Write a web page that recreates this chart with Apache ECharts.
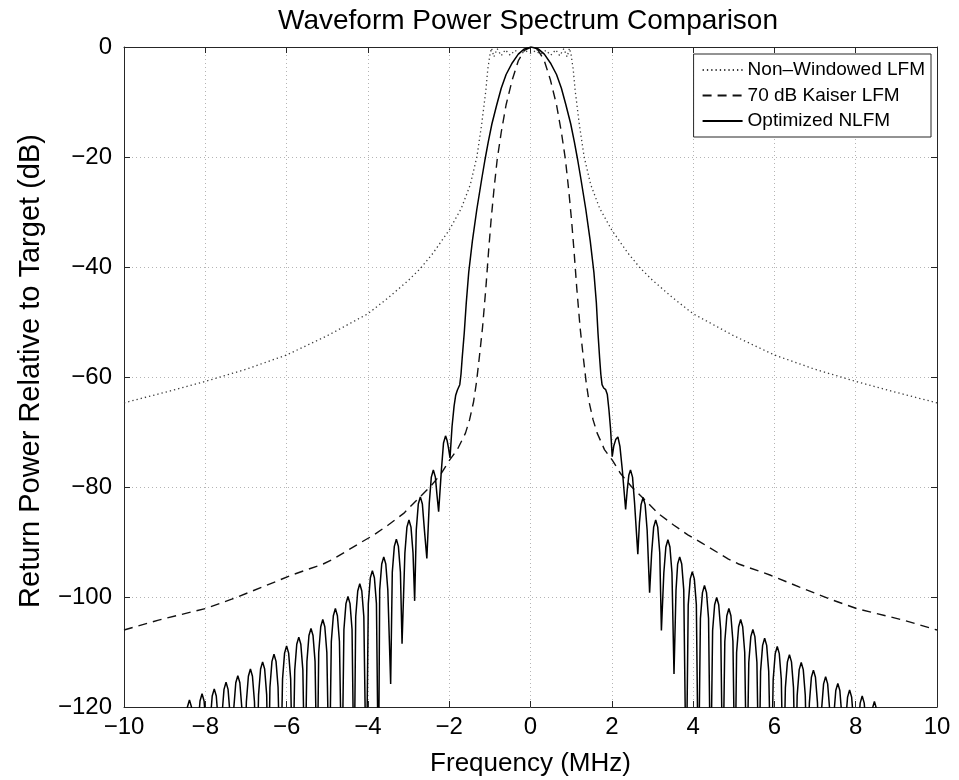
<!DOCTYPE html>
<html>
<head>
<meta charset="utf-8">
<script src="https://cdn.jsdelivr.net/npm/echarts@6/dist/echarts.min.js"></script>
<style>html,body{margin:0;padding:0;background:#fff}#c{width:959px;height:780px}</style>
</head>
<body>
<div id="c"></div>
<script>
// ---- data ----
var seriesNames = ['Non\u2013Windowed LFM', '70 dB Kaiser LFM', 'Optimized NLFM'];
var xTicks = [-10, -8, -6, -4, -2, 0, 2, 4, 6, 8, 10];
var yTicks = [-120, -100, -80, -60, -40, -20, 0];

// [frequency MHz, dB]
var nonWindowedLFM = [
  [-10,-64.7],[-9,-62.8],[-8,-60.8],[-7,-58.6],[-6,-56],[-5,-52.5],[-4,-48.5],[-3.5,-45.6],[-3,-42.4],
  [-2.7,-40.2],[-2.4,-37.5],[-2,-33.3],[-1.7,-29.3],[-1.48,-25],[-1.32,-20],[-1.2,-14],[-1.1,-8],
  [-1.05,-4],[-1.0,-1.5],[-0.96,-0.2],[-0.9,-1.8],[-0.82,-0.3],[-0.72,-1.6],[-0.62,-0.5],[-0.5,-1.5],
  [-0.38,-0.6],[-0.25,-1.3],[-0.12,-0.7],[0,-1.1],[0.12,-0.7],[0.25,-1.3],[0.38,-0.6],[0.5,-1.5],
  [0.62,-0.5],[0.72,-1.6],[0.82,-0.3],[0.9,-1.8],[0.96,-0.2],[1.0,-1.5],[1.05,-4],[1.1,-8],[1.2,-14],
  [1.32,-20],[1.48,-25],[1.7,-29.3],[2,-33.3],[2.4,-37.5],[2.7,-40.2],[3,-42.4],[3.5,-45.6],[4,-48.5],
  [5,-52.5],[6,-56],[7,-58.6],[8,-60.8],[9,-62.8],[10,-64.7]
];

var kaiserLFM = [
  [-10,-106],[-9.15,-104.2],[-8.33,-102.7],[-8,-102.1],[-7.35,-100.4],[-6.6,-98.2],[-5.87,-96],[-5.1,-94],
  [-4.85,-93.1],[-4.2,-90.2],[-3.85,-88.7],[-3.5,-86.9],[-3.12,-84.8],[-2.8,-82.4],[-2.46,-79.9],[-2.2,-77.6],
  [-2,-75.2],[-1.8,-73.2],[-1.6,-70.2],[-1.5,-67.8],[-1.4,-64.5],[-1.33,-61],[-1.26,-56.5],[-1.18,-51],
  [-1.1,-44],[-1.03,-37],[-0.97,-31.5],[-0.9,-26],[-0.82,-20.5],[-0.72,-15.5],[-0.6,-10.5],[-0.45,-6],
  [-0.3,-2.5],[-0.15,-0.6],[0.02,0],[0.19,-0.6],[0.34,-2.5],[0.49,-6],[0.64,-10.5],[0.76,-15.5],
  [0.86,-20.5],[0.94,-26],[1.01,-31.5],[1.07,-37],[1.14,-44],[1.22,-51],[1.3,-56.5],[1.37,-61],
  [1.44,-64.5],[1.54,-67.8],[1.64,-70.2],[1.82,-73.2],[2.02,-75.2],[2.22,-77.6],[2.48,-79.9],[2.82,-82.4],
  [3.14,-84.8],[3.52,-86.9],[3.87,-88.7],[4.22,-90.2],[4.87,-93.1],[5.12,-94],[5.89,-96],[6.62,-98.2],
  [7.37,-100.4],[8.02,-102.1],[8.35,-102.7],[9.17,-104.2],[10,-106]
];

var nlfmLeftSidelobes = [
  [-10,-140],[-8.54,-135],
  [-8.49,-124.7],[-8.44,-120],[-8.39,-118.7],[-8.34,-120],[-8.29,-124.7],[-8.23,-135],
  [-8.18,-123.6],[-8.13,-118.9],[-8.08,-117.6],[-8.03,-118.9],[-7.98,-123.6],[-7.93,-135],
  [-7.88,-122.7],[-7.83,-118],[-7.78,-116.7],[-7.73,-118],[-7.68,-122.7],[-7.64,-135],
  [-7.59,-121.5],[-7.54,-116.8],[-7.49,-115.5],[-7.44,-116.8],[-7.39,-121.5],[-7.35,-135],
  [-7.30,-120.3],[-7.25,-115.6],[-7.20,-114.3],[-7.15,-115.6],[-7.10,-120.3],[-7.04,-135],
  [-6.99,-119.1],[-6.94,-114.4],[-6.89,-113.1],[-6.84,-114.4],[-6.79,-119.1],[-6.74,-135],
  [-6.69,-117.8],[-6.64,-113.1],[-6.59,-111.8],[-6.54,-113.1],[-6.49,-117.8],[-6.45,-135],
  [-6.41,-116.4],[-6.36,-111.7],[-6.31,-110.4],[-6.26,-111.7],[-6.21,-116.4],[-6.15,-135],
  [-6.10,-114.9],[-6.05,-110.2],[-6.00,-108.9],[-5.95,-110.2],[-5.90,-114.9],[-5.85,-135],
  [-5.80,-113.3],[-5.75,-108.6],[-5.70,-107.3],[-5.65,-108.6],[-5.60,-113.3],[-5.55,-135],
  [-5.50,-111.7],[-5.45,-107],[-5.40,-105.7],[-5.35,-107],[-5.30,-111.7],[-5.25,-135],
  [-5.21,-110.1],[-5.16,-105.4],[-5.11,-104.1],[-5.06,-105.4],[-5.01,-110.1],[-4.95,-135],
  [-4.90,-108.1],[-4.85,-103.4],[-4.80,-102.1],[-4.75,-103.4],[-4.70,-108.1],[-4.64,-135],
  [-4.59,-105.9],[-4.54,-101.2],[-4.49,-99.9],[-4.44,-101.2],[-4.39,-105.9],[-4.34,-135],
  [-4.30,-103.6],[-4.25,-98.9],[-4.20,-97.6],[-4.15,-98.9],[-4.10,-103.6],[-4.04,-135],
  [-3.99,-101.2],[-3.94,-96.5],[-3.89,-95.2],[-3.84,-96.5],[-3.79,-101.2],[-3.74,-135],
  [-3.71,-98.7],[-3.66,-94],[-3.61,-92.7],[-3.56,-94],[-3.51,-98.7],[-3.44,-115.8],
  [-3.40,-95.5],[-3.35,-90.8],[-3.30,-89.5],[-3.25,-90.8],[-3.20,-95.5],[-3.16,-108.5],
  [-3.09,-92],[-3.04,-87.3],[-2.99,-86],[-2.94,-87.3],[-2.89,-92],[-2.85,-100.7],
  [-2.81,-87.8],[-2.76,-83.1],[-2.71,-81.8],[-2.66,-83.1],[-2.61,-87.8],[-2.55,-93],
  [-2.49,-82.9],[-2.44,-78.2],[-2.39,-76.9],[-2.34,-78.2],[-2.30,-81.5],[-2.26,-84.5],
  [-2.19,-76.7],[-2.14,-72],[-2.09,-70.7],[-2.05,-71.6],[-2.02,-72.8]
];

var nlfmMainLobe = [
  [-1.98,-74.7],[-1.93,-69],[-1.88,-65.3],[-1.84,-63.3],[-1.80,-62.4],[-1.77,-62.2],[-1.74,-61.4],
  [-1.71,-59.5],[-1.68,-56.5],[-1.63,-52],[-1.58,-46.5],[-1.52,-41],[-1.43,-35.3],[-1.32,-29.5],
  [-1.2,-24],[-1.12,-20.5],[-1.04,-17.3],[-0.95,-14],[-0.83,-10.5],[-0.72,-7.5],[-0.6,-5],[-0.45,-2.9],
  [-0.3,-1.3],[-0.15,-0.35],[0.02,0],[0.19,-0.35],[0.34,-1.3],[0.49,-2.9],[0.64,-5],[0.76,-7.5],
  [0.87,-10.5],[0.99,-14],[1.08,-17.3],[1.16,-20.5],[1.24,-24],[1.36,-29.5],[1.47,-35.3],[1.56,-41],
  [1.62,-46.5],[1.66,-52],[1.70,-56.5],[1.73,-59.5],[1.76,-61.4],[1.80,-62],[1.85,-62.3],[1.89,-63.2],
  [1.93,-66],[1.97,-69.5],[2.01,-74.5]
];

var nlfmRightSidelobes = [
  [2.05,-72.5],[2.10,-71.3],[2.15,-70.9],[2.20,-72.6],[2.26,-77],[2.34,-84.1],
  [2.38,-80.5],[2.42,-77.8],[2.46,-76.9],[2.51,-78.2],[2.56,-82.9],[2.64,-92.2],
  [2.68,-86.5],[2.72,-83.2],[2.77,-81.9],[2.82,-83.2],[2.87,-87.9],[2.93,-99.2],
  [2.98,-92],[3.03,-87.3],[3.08,-86],[3.13,-87.3],[3.18,-92],[3.22,-106.1],
  [3.28,-95.6],[3.33,-90.9],[3.38,-89.6],[3.43,-90.9],[3.48,-95.6],[3.53,-114],
  [3.58,-98.7],[3.62,-94],[3.67,-92.7],[3.72,-94],[3.77,-98.7],[3.83,-135],
  [3.88,-101.4],[3.93,-96.7],[3.98,-95.4],[4.03,-96.7],[4.08,-101.4],[4.13,-135],
  [4.18,-103.9],[4.23,-99.2],[4.28,-97.9],[4.33,-99.2],[4.38,-103.9],[4.43,-135],
  [4.48,-106.1],[4.53,-101.4],[4.58,-100.1],[4.63,-101.4],[4.68,-106.1],[4.73,-135],
  [4.78,-108.1],[4.83,-103.4],[4.88,-102.1],[4.93,-103.4],[4.98,-108.1],[5.03,-135],
  [5.07,-110.1],[5.12,-105.4],[5.17,-104.1],[5.22,-105.4],[5.27,-110.1],[5.32,-135],
  [5.37,-111.9],[5.42,-107.2],[5.47,-105.9],[5.52,-107.2],[5.57,-111.9],[5.62,-135],
  [5.66,-113.5],[5.71,-108.8],[5.76,-107.5],[5.81,-108.8],[5.86,-113.5],[5.92,-135],
  [5.97,-115],[6.02,-110.3],[6.07,-109],[6.12,-110.3],[6.17,-115],[6.22,-135],
  [6.27,-116.5],[6.32,-111.8],[6.37,-110.5],[6.42,-111.8],[6.47,-116.5],[6.52,-135],
  [6.56,-117.9],[6.61,-113.2],[6.66,-111.9],[6.71,-113.2],[6.76,-117.9],[6.81,-135],
  [6.86,-119.3],[6.91,-114.6],[6.96,-113.3],[7.01,-114.6],[7.06,-119.3],[7.11,-135],
  [7.16,-120.5],[7.21,-115.8],[7.26,-114.5],[7.31,-115.8],[7.36,-120.5],[7.41,-135],
  [7.46,-121.7],[7.51,-117],[7.56,-115.7],[7.61,-117],[7.66,-121.7],[7.71,-135],
  [7.75,-122.9],[7.80,-118.2],[7.85,-116.9],[7.90,-118.2],[7.95,-122.9],[8.01,-135],
  [8.06,-124],[8.11,-119.3],[8.16,-118],[8.21,-119.3],[8.26,-124],[8.31,-135],
  [8.36,-125],[8.41,-120.3],[8.46,-119],[8.51,-120.3],[8.56,-125],[8.61,-135],[10,-140]
];

var optimizedNLFM = nlfmLeftSidelobes.concat(nlfmMainLobe, nlfmRightSidelobes);

// ---- chart ----
var FONT = '"Liberation Sans", Arial, Helvetica, sans-serif';
function fmt(v) { return String(v).replace('-', '\u2212'); }
var gridLine = { show: true, lineStyle: { color: '#b4b4b4', width: 1, type: [1, 3] } };
var axisLine = { show: true, onZero: false, lineStyle: { color: '#262626', width: 1 } };
var tick = { show: true, inside: true, length: 6, lineStyle: { color: '#262626', width: 1 } };

var chart = echarts.init(document.getElementById('c'), null, { renderer: 'canvas' });
chart.setOption({
  animation: false,
  backgroundColor: '#fff',
  title: {
    text: 'Waveform Power Spectrum Comparison',
    left: 278, top: 7, padding: 0,
    textStyle: { fontFamily: FONT, fontSize: 28, fontWeight: 'normal', color: '#000' }
  },
  legend: {
    data: seriesNames, orient: 'vertical', right: 28, top: 54,
    itemWidth: 40, itemHeight: 14, itemGap: 6.5,
    padding: [6.5, 6, 6.5, 8],
    borderColor: '#262626', borderWidth: 1, backgroundColor: '#fff',
    itemStyle: { opacity: 0 },
    textStyle: { fontFamily: FONT, fontSize: 19, color: '#000' }
  },
  grid: { left: 124, right: 22, top: 47, bottom: 73, containLabel: false, outerBoundsMode: 'none' },
  xAxis: [{
    type: 'value', min: -10, max: 10, interval: 2, position: 'bottom',
    name: 'Frequency (MHz)', nameLocation: 'middle', nameGap: 44,
    nameTextStyle: { fontFamily: FONT, fontSize: 26, color: '#000' },
    axisLine: axisLine, axisTick: tick, splitLine: gridLine,
    axisLabel: { formatter: fmt, fontFamily: FONT, fontSize: 24, color: '#000', margin: 8 }
  }, {
    type: 'value', min: -10, max: 10, interval: 2, position: 'top',
    axisLine: axisLine, axisTick: tick, splitLine: { show: false }, axisLabel: { show: false }
  }],
  yAxis: [{
    type: 'value', min: -120, max: 0, interval: 20, position: 'left',
    name: 'Return Power Relative to Target (dB)', nameLocation: 'middle', nameGap: 79,
    nameTextStyle: { fontFamily: FONT, fontSize: 29, color: '#000', padding: [0, 0, 0, 12] },
    axisLine: axisLine, axisTick: tick, splitLine: gridLine,
    axisLabel: { formatter: fmt, fontFamily: FONT, fontSize: 24, color: '#000', margin: 12 }
  }, {
    type: 'value', min: -120, max: 0, interval: 20, position: 'right',
    axisLine: axisLine, axisTick: tick, splitLine: { show: false }, axisLabel: { show: false }
  }],
  series: [{
    name: seriesNames[0], type: 'line', data: nonWindowedLFM, symbol: 'none', clip: true,
    lineStyle: { color: '#3a3a3a', width: 1.3, type: [1.3, 3] }, itemStyle: { color: '#3a3a3a' }
  }, {
    name: seriesNames[1], type: 'line', data: kaiserLFM, symbol: 'none', clip: true,
    lineStyle: { color: '#111', width: 1.4, type: [9, 6] }, itemStyle: { color: '#111' }
  }, {
    name: seriesNames[2], type: 'line', data: optimizedNLFM, symbol: 'none', clip: true,
    lineStyle: { color: '#000', width: 1.5 }, itemStyle: { color: '#000' }
  }]
});
</script>
</body>
</html>
